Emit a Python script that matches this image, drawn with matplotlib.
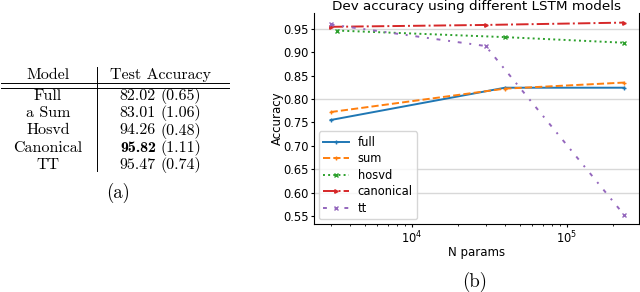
import matplotlib.pyplot as plt
from matplotlib.lines import Line2D

# table (a)
models = ['Full', 'a Sum', 'Hosvd', 'Canonical', 'TT']
test_acc = ['82.02', '83.01', '94.26', '95.82', '95.47']
test_std = ['(0.65)', '(1.06)', '(0.48)', '(1.11)', '(0.74)']
best = 'Canonical'

# plot (b)
labels = ['full', 'sum', 'hosvd', 'canonical', 'tt']
n_full = [3000, 40000, 235000]
acc_full = [0.755, 0.824, 0.824]
n_sum = [3000, 40000, 235000]
acc_sum = [0.772, 0.822, 0.835]
n_hosvd = [3300, 40000, 235000]
acc_hosvd = [0.946, 0.932, 0.920]
n_canonical = [3000, 30000, 235000]
acc_canonical = [0.954, 0.958, 0.963]
n_tt = [3000, 30000, 235000]
acc_tt = [0.959, 0.913, 0.552]
yticks = [0.55, 0.60, 0.65, 0.70, 0.75, 0.80, 0.85, 0.90, 0.95]
grid_levels = [0.95, 0.80, 0.65, 0.60]

W, H = 640, 292


def fx(px):
    return px / W


def fy(py):
    return 1 - py / H


fig = plt.figure(figsize=(6.4, 2.92), dpi=100)

# ---- table ----
tfont = dict(family='cmr10', fontsize=11.5)
fig.text(fx(48), fy(75), 'Model', ha='center', va='center', **tfont)
fig.text(fx(161), fy(75), 'Test Accuracy', ha='center', va='center', **tfont)
for i, m in enumerate(models):
    y = 96 + i * 17.3
    fig.text(fx(48), fy(y), m, ha='center', va='center', **tfont)
    if m == best:
        fig.text(fx(156), fy(y), test_acc[i], ha='right', va='center',
                 family='cmb10', fontsize=11.5)
    else:
        fig.text(fx(156), fy(y), test_acc[i], ha='right', va='center', **tfont)
    fig.text(fx(160), fy(y), test_std[i], ha='left', va='center', **tfont)

for yy in [83.3, 88.0]:
    fig.add_artist(Line2D([fx(1), fx(229)], [fy(yy), fy(yy)], color='black', lw=0.7))
fig.add_artist(Line2D([fx(97), fx(97)], [fy(67), fy(171)], color='black', lw=0.7))
fig.text(fx(118), fy(193), '(a)', ha='center', va='center', family='cmr10', fontsize=13.5)

# ---- plot ----
ax = fig.add_axes([fx(314), fy(224), fx(639 - 314), (224 - 13) / H])
ax.plot(n_full, acc_full, color='C0', ls='-', marker='+', ms=3.5, lw=1.4, label=labels[0])
ax.plot(n_sum, acc_sum, color='C1', ls='--', marker='+', ms=3.5, lw=1.4, label=labels[1])
ax.plot(n_hosvd, acc_hosvd, color='C2', ls=':', marker='x', ms=2.5, lw=1.4, label=labels[2])
ax.plot(n_canonical, acc_canonical, color='C3', ls='-.', marker='>', ms=2.5, lw=1.4, label=labels[3])
ax.plot(n_tt, acc_tt, color='C4', ls=(0, (2, 4, 1, 4)), marker='x', ms=2.5, lw=1.4, label=labels[4])

ax.set_xscale('log')
ax.set_xlim(10 ** 3.37, 10 ** 5.466)
ax.set_ylim(0.533, 0.9835)
ax.set_yticks(yticks)
ax.set_yticklabels(['%.2f' % t for t in yticks])
for g in grid_levels:
    ax.axhline(g, color='#d8d8d8', lw=1.0, zorder=0)
ax.tick_params(labelsize=8.3, length=2.5, pad=1.5)
ax.tick_params(which='minor', length=1.5)
ax.spines['top'].set_visible(False)
ax.set_xlabel('N params', fontsize=8.5, labelpad=0)
ax.set_ylabel('Accuracy', fontsize=8.5)
ax.yaxis.set_label_coords(-0.093, 0.5)
ax.set_title('Dev accuracy using different LSTM models', fontsize=9.7, pad=2)
ax.legend(loc='lower left', fontsize=8.3, handlelength=2.2, borderaxespad=0.4,
          labelspacing=0.3, fancybox=True)

fig.text(fx(475), fy(282), '(b)', ha='center', va='center', family='cmr10', fontsize=13.5)

fig.savefig('out.png', dpi=100)
